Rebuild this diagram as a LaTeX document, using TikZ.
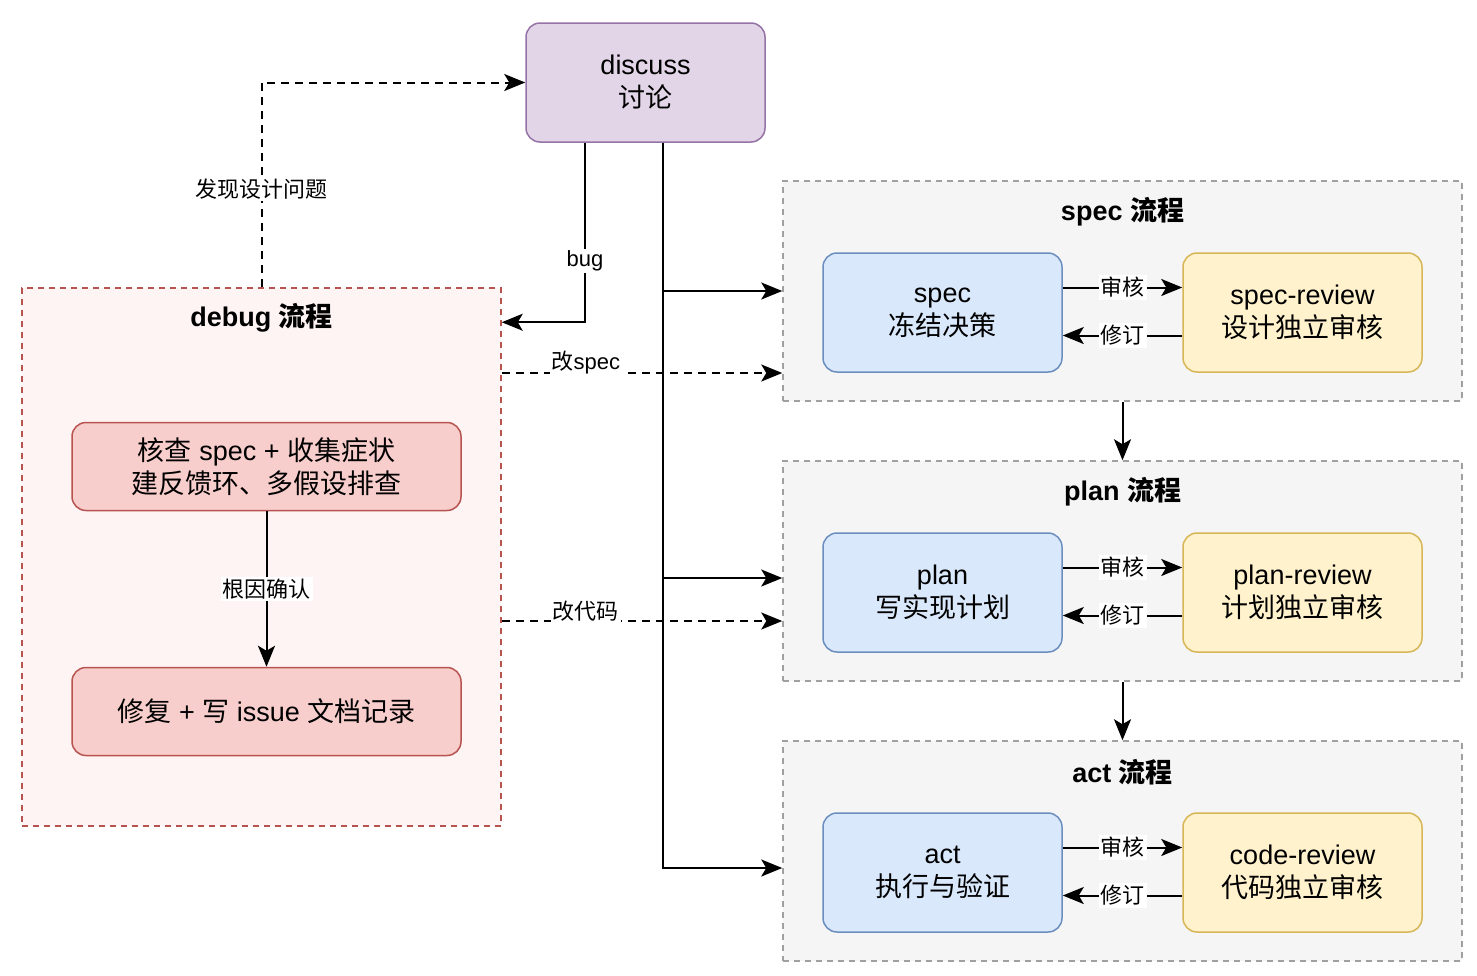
\documentclass[tikz,border=0pt]{standalone}
\usepackage{fontspec}
\setmainfont{Liberation Sans}
\newfontfamily\cjk{Noto Sans CJK SC}
\newcommand{\zh}[1]{{\cjk #1}}
\usetikzlibrary{arrows.meta}

\definecolor{purplefill}{HTML}{E1D5E7}
\definecolor{purpleline}{HTML}{9673A6}
\definecolor{bluefill}{HTML}{DAE8FC}
\definecolor{blueline}{HTML}{6C8EBF}
\definecolor{yellowfill}{HTML}{FFF2CC}
\definecolor{yellowline}{HTML}{D6B656}
\definecolor{redfill}{HTML}{F8CECC}
\definecolor{redline}{HTML}{B85450}
\definecolor{grpfill}{HTML}{F5F5F5}
\definecolor{grpline}{HTML}{A0A0A0}
\definecolor{dbgfill}{HTML}{FEF4F4}

\tikzset{
  box/.style={draw, rounded corners=7pt, line width=0.75pt, inner sep=0pt,
    minimum width=119.5pt, minimum height=59.5pt, align=center,
    font=\fontsize{13.5}{16.5}\selectfont},
  dbgbox/.style={box, fill=redfill, draw=redline, minimum width=194.5pt, minimum height=44pt},
  grp/.style={draw=grpline, fill=grpfill, line width=0.75pt, dash pattern=on 3pt off 2.5pt,
    minimum width=339.5pt, minimum height=110pt, inner sep=0pt},
  ttl/.style={font=\fontsize{13.5}{16}\selectfont\bfseries},
  lbl/.style={fill=white, inner sep=1pt, font=\fontsize{11}{13}\selectfont},
  arr/.style={->, line width=1pt},
  dasharr/.style={->, line width=1pt, dash pattern=on 4pt off 3pt},
}

\begin{document}
\begin{tikzpicture}[x=0.5pt, y=-0.5pt, >={Stealth[length=10.5pt,width=8.5pt,inset=2.5pt]}]
\useasboundingbox (0,0) rectangle (1477,975);

% stage groups
\node[grp] (specgrp) at (1122.5,291) {};
\node[grp] (plangrp) at (1122.5,571) {};
\node[grp] (actgrp) at (1122.5,851) {};
\node[ttl] (spectitle) at (1122.5,212) {spec \zh{\bfseries 流程}};
\node[ttl] (plantitle) at (1122.5,492) {plan \zh{\bfseries 流程}};
\node[ttl] (acttitle) at (1122.5,772) {act \zh{\bfseries 流程}};

% debug group
\node[draw=redline, fill=dbgfill, line width=0.75pt, dash pattern=on 3pt off 2.5pt,
  minimum width=239.5pt, minimum height=269pt, inner sep=0pt] (debug) at (261.5,557) {};
\node[ttl] (dbgtitle) at (261.5,318) {debug \zh{\bfseries 流程}};

% boxes
\node[box, fill=purplefill, draw=purpleline] (discuss) at (645.5,82.5) {discuss\\\zh{讨论}};
\node[box, fill=bluefill, draw=blueline] (spec) at (942.5,312.5) {spec\\\zh{冻结决策}};
\node[box, fill=yellowfill, draw=yellowline] (specrev) at (1302.5,312.5) {spec-review\\\zh{设计独立审核}};
\node[box, fill=bluefill, draw=blueline] (plan) at (942.5,592.5) {plan\\\zh{写实现计划}};
\node[box, fill=yellowfill, draw=yellowline] (planrev) at (1302.5,592.5) {plan-review\\\zh{计划独立审核}};
\node[box, fill=bluefill, draw=blueline] (act) at (942.5,872.5) {act\\\zh{执行与验证}};
\node[box, fill=yellowfill, draw=yellowline] (coderev) at (1302.5,872.5) {code-review\\\zh{代码独立审核}};
\node[dbgbox] (check) at (266.5,466.5) {\zh{核查} spec + \zh{收集症状}\\\zh{建反馈环、多假设排查}};
\node[dbgbox] (fix) at (266.5,711.5) {\zh{修复} + \zh{写} issue \zh{文档记录}};

% review loops
\draw[arr] ([yshift=12.5pt]spec.east) -- node[lbl]{\zh{审核}} ([yshift=12.5pt]specrev.west);
\draw[arr] ([yshift=-11.5pt]specrev.west) -- node[lbl]{\zh{修订}} ([yshift=-11.5pt]spec.east);
\draw[arr] ([yshift=12.5pt]plan.east) -- node[lbl]{\zh{审核}} ([yshift=12.5pt]planrev.west);
\draw[arr] ([yshift=-11.5pt]planrev.west) -- node[lbl]{\zh{修订}} ([yshift=-11.5pt]plan.east);
\draw[arr] ([yshift=12.5pt]act.east) -- node[lbl]{\zh{审核}} ([yshift=12.5pt]coderev.west);
\draw[arr] ([yshift=-11.5pt]coderev.west) -- node[lbl]{\zh{修订}} ([yshift=-11.5pt]act.east);

% stage order
\draw[arr] (specgrp.south) -- (plangrp.north);
\draw[arr] (plangrp.south) -- (actgrp.north);

% from discuss
\draw[arr] ([xshift=8.75pt]discuss.south) |- (specgrp.west);
\draw[arr] ([xshift=8.75pt]discuss.south) |- ([yshift=-3.5pt]plangrp.west);
\draw[arr] ([xshift=8.75pt]discuss.south) |- ([yshift=-8.5pt]actgrp.west);
\draw[arr] ([xshift=-30.25pt]discuss.south) |- node[lbl, pos=0.33]{bug} ([yshift=-17.5pt]debug.north east);

% from debug
\draw[dasharr] (debug.north) |- node[lbl, pos=0.24]{\zh{发现设计问题}} (discuss.west);
\coordinate (inspec) at ([yshift=-41pt]specgrp.west);
\coordinate (incode) at ([yshift=-25pt]plangrp.west);
\draw[dasharr] (inspec -| debug.east) -- node[lbl, pos=0.3, yshift=5pt]{\zh{改}spec} (inspec);
\draw[dasharr] (incode -| debug.east) -- node[lbl, pos=0.3, yshift=5pt]{\zh{改代码}} (incode);
\draw[arr] (check) -- node[lbl]{\zh{根因确认}} (fix);
\end{tikzpicture}
\end{document}
